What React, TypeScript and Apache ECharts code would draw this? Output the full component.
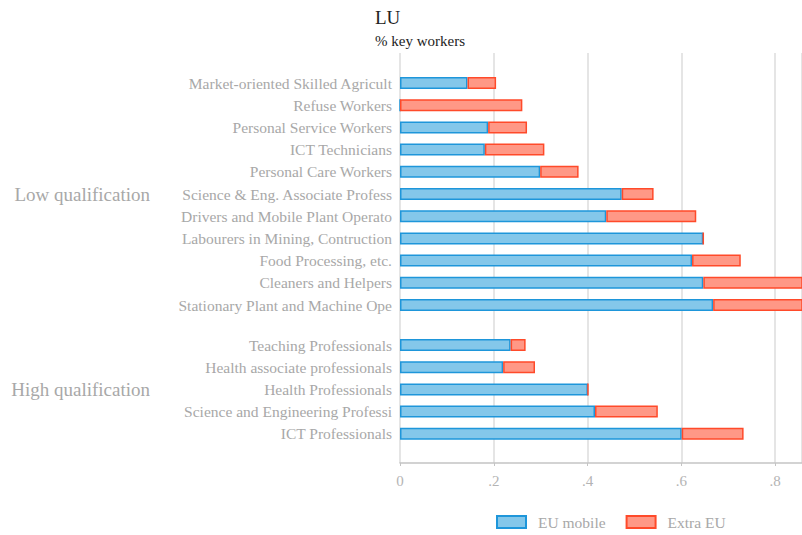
import React, { useEffect, useRef } from "react";
import * as echarts from "echarts";

const lowCategories = [
  "Market-oriented Skilled Agricult",
  "Refuse Workers",
  "Personal Service Workers",
  "ICT Technicians",
  "Personal Care Workers",
  "Science & Eng. Associate Profess",
  "Drivers and Mobile Plant Operato",
  "Labourers in Mining, Contruction",
  "Food Processing, etc.",
  "Cleaners and Helpers",
  "Stationary Plant and Machine Ope",
];
const lowEUMobile = [0.144, 0, 0.188, 0.181, 0.299, 0.473, 0.44, 0.647, 0.623, 0.647, 0.668];
const lowExtraEU = [0.061, 0.261, 0.083, 0.127, 0.082, 0.068, 0.192, 0, 0.104, 0.25, 0.22];

const highCategories = [
  "Teaching Professionals",
  "Health associate professionals",
  "Health Professionals",
  "Science and Engineering Professi",
  "ICT Professionals",
];
const highEUMobile = [0.236, 0.22, 0.401, 0.416, 0.601];
const highExtraEU = [0.032, 0.068, 0, 0.134, 0.132];

const xTicks = [0, 0.2, 0.4, 0.6, 0.8];

const FONT = "Liberation Serif";
const X_MAX = 402 / 468.75;

export default function App() {
  const ref = useRef<HTMLDivElement>(null);
  useEffect(() => {
    if (!ref.current) return;
    const chart = echarts.init(ref.current, null, { renderer: "svg" });
    const blue = { color: "#84C7EA", borderColor: "#1E96DA", borderWidth: 1.5 };
    const red = { color: "#FF9886", borderColor: "#FF4A2A", borderWidth: 1.5 };
    const catLabel = { color: "#a8a8a8", fontSize: 15.5, fontFamily: FONT, margin: 8 };
    const groupName = { color: "#a8a8a8", fontSize: 19, fontFamily: FONT, align: "right" as const };
    chart.setOption({
      animation: false,
      textStyle: { fontFamily: FONT },
      title: {
        text: "LU",
        subtext: "% key workers",
        left: 370,
        top: 3,
        itemGap: 6,
        textStyle: { fontSize: 19, fontWeight: "normal", color: "#222", fontFamily: FONT },
        subtextStyle: { fontSize: 15, color: "#222", fontFamily: FONT },
      },
      legend: {
        data: ["EU mobile", "Extra EU"],
        left: 491,
        top: 509,
        icon: "rect",
        itemWidth: 29,
        itemHeight: 12,
        itemGap: 20,
        textStyle: { color: "#a8a8a8", fontSize: 15.5, fontFamily: FONT, padding: [0, 0, 0, 7] },
      },
      grid: [
        { left: 400, right: 0, top: 53, height: 410 },
        { left: 400, right: 0, top: 71.9, height: 244.2 },
        { left: 400, right: 0, top: 333.9, height: 111 },
      ],
      xAxis: [
        {
          gridIndex: 0,
          type: "value",
          min: 0,
          max: X_MAX,
          interval: 0.2,
          axisLine: { show: true, lineStyle: { color: "#c4c4c4", width: 1.5 } },
          axisTick: { show: true, length: 3, lineStyle: { color: "#c4c4c4" } },
          splitLine: { show: true, lineStyle: { color: "#dcdcdc", width: 1.5 } },
          axisLabel: {
            color: "#b4b4b4",
            fontSize: 15,
            fontFamily: FONT,
            margin: 10,
            showMaxLabel: false,
            formatter: (v: number) => {
              const t = xTicks.find((x) => Math.abs(x - v) < 1e-6);
              if (t === undefined) return "";
              return t === 0 ? "0" : t.toFixed(1).replace(/^0/, "");
            },
          },
        },
        { gridIndex: 1, type: "value", min: 0, max: X_MAX, show: false, splitLine: { show: false } },
        { gridIndex: 2, type: "value", min: 0, max: X_MAX, show: false, splitLine: { show: false } },
      ],
      yAxis: [
        { gridIndex: 0, type: "value", min: 0, max: 1, show: false, splitLine: { show: false } },
        {
          gridIndex: 1,
          type: "category",
          data: lowCategories,
          inverse: true,
          axisLine: { show: false },
          axisTick: { show: false },
          axisLabel: catLabel,
          name: "Low qualification",
          nameLocation: "middle",
          nameRotate: 0,
          nameGap: 250,
          nameTextStyle: groupName,
        },
        {
          gridIndex: 2,
          type: "category",
          data: highCategories,
          inverse: true,
          axisLine: { show: false },
          axisTick: { show: false },
          axisLabel: catLabel,
          name: "High qualification",
          nameLocation: "middle",
          nameRotate: 0,
          nameGap: 250,
          nameTextStyle: groupName,
        },
      ],
      series: [
        { name: "EU mobile", type: "bar", stack: "low", xAxisIndex: 1, yAxisIndex: 1, data: lowEUMobile, barWidth: 12, itemStyle: blue },
        { name: "Extra EU", type: "bar", stack: "low", xAxisIndex: 1, yAxisIndex: 1, data: lowExtraEU, barWidth: 12, itemStyle: red },
        { name: "EU mobile", type: "bar", stack: "high", xAxisIndex: 2, yAxisIndex: 2, data: highEUMobile, barWidth: 12, itemStyle: blue },
        { name: "Extra EU", type: "bar", stack: "high", xAxisIndex: 2, yAxisIndex: 2, data: highExtraEU, barWidth: 12, itemStyle: red },
      ],
    });
    return () => chart.dispose();
  }, []);
  return <div ref={ref} style={{ width: 802, height: 535, position: "absolute", left: 0, top: 0 }} />;
}
